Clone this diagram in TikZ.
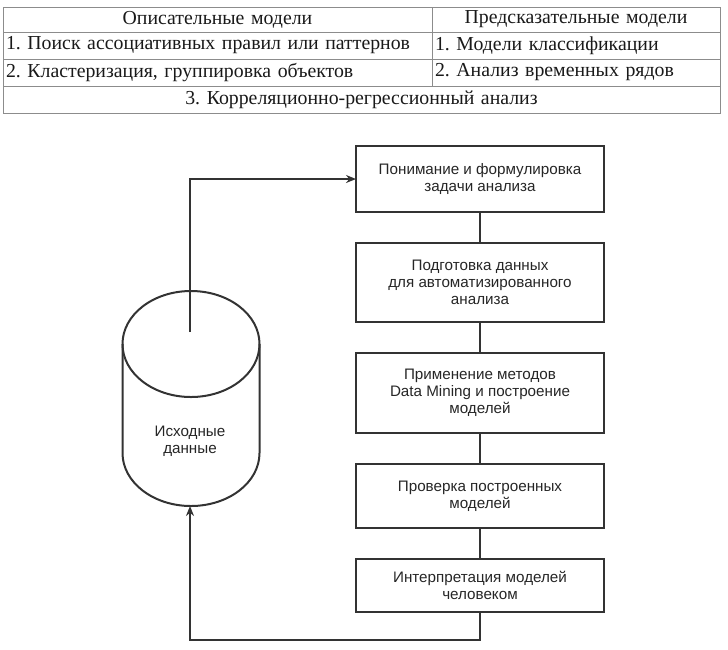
\documentclass[tikz,border=0pt]{standalone}
\usepackage{fontspec}
\setmainfont{Liberation Serif}
\newfontfamily\boxsans{Liberation Sans}
\usetikzlibrary{arrows.meta,positioning}
\definecolor{tablegray}{HTML}{8C8C8C}
\definecolor{inkgray}{HTML}{333333}
\frenchspacing

\begin{document}
\begin{tikzpicture}[x=1pt,y=-1pt,>={Stealth[length=10pt,width=8pt]},
  cell/.style={draw=tablegray,line width=0.8pt,anchor=north west,inner xsep=3pt,inner ysep=0pt,outer sep=0pt,font=\fontsize{19.8}{21}\selectfont,text=black!90},
  stage/.style={draw=inkgray,line width=2pt,minimum width=248pt,align=center,inner sep=2pt,outer sep=0pt,font=\boxsans\fontsize{15.2}{17}\selectfont,text=black!85},
  link/.style={draw=inkgray,line width=2.6pt}]
  \useasboundingbox (0,0) rectangle (728,649);

  \node (T0a) [cell,minimum width=429pt,minimum height=25pt,text width=423pt,align=center] at (3,7) {Описательные модели};
  \node (T0b) [cell,minimum width=288pt,minimum height=25pt,text width=282pt,align=center] at (T0a.north east) {Предсказательные модели};
  \node (T1a) [cell,minimum width=429pt,minimum height=27pt,text width=423pt,align=left] at (T0a.south west) {1. Поиск ассоциативных правил или паттернов};
  \node (T1b) [cell,minimum width=288pt,minimum height=27pt,text width=282pt,align=left] at (T1a.north east) {1. Модели классификации};
  \node (T2a) [cell,minimum width=429pt,minimum height=27pt,text width=423pt,align=left] at (T1a.south west) {2. Кластеризация, группировка объектов};
  \node (T2b) [cell,minimum width=288pt,minimum height=27pt,text width=282pt,align=left] at (T2a.north east) {2. Анализ временных рядов};
  \node (T3) [cell,minimum width=717pt,minimum height=27pt,text width=711pt,align=center] at (T2a.south west) {3. Корреляционно-регрессионный анализ};

  \node (S1) [stage,minimum height=66pt,anchor=north] at (480,146) {Понимание и формулировка\\задачи анализа};
  \node (S2) [stage,minimum height=79pt,below=31pt of S1] {Подготовка данных\\для автоматизированного\\анализа};
  \node (S3) [stage,minimum height=80pt,below=31pt of S2] {Применение методов\\Data Mining и построение\\моделей};
  \node (S4) [stage,minimum height=64pt,below=31pt of S3] {Проверка построенных\\моделей};
  \node (S5) [stage,minimum height=53pt,below=31pt of S4] {Интерпретация моделей\\человеком};

  \draw[draw=inkgray,line width=2pt] (191,344) ellipse [x radius=68.5,y radius=53];
  \draw[draw=inkgray,line width=2pt] (122.5,344) -- (122.5,453)
    arc[start angle=180,end angle=0,x radius=68.5,y radius=53] -- (259.5,344);
  \node (DB) [font=\boxsans\fontsize{15.2}{17}\selectfont,text=black!85,align=center] at (190,441) {Исходные\\данные};
  \coordinate (DBtop) at (190,332);
  \coordinate (DBbot) at (190,506);

  \draw[link] (S1) -- (S2);
  \draw[link] (S2) -- (S3);
  \draw[link] (S3) -- (S4);
  \draw[link] (S4) -- (S5);

  \draw[link,->] (DBtop) |- (S1.west);
  \draw[link,->] (S5.south) -- ++(0,28) -| (DBbot);
\end{tikzpicture}
\end{document}
